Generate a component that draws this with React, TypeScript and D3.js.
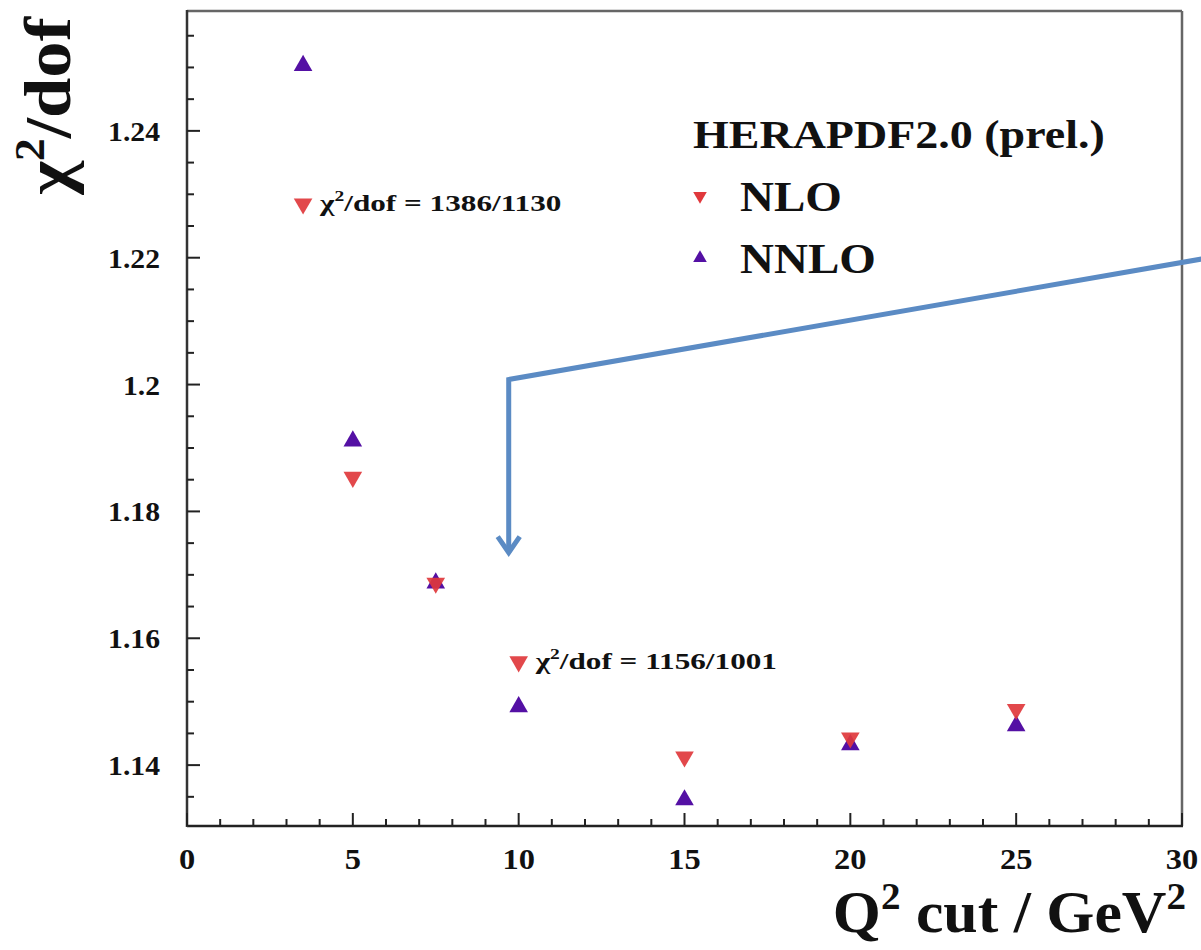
import * as d3 from 'd3'

// Q2 cut values (GeV^2) and chi2/dof for the two fits
const qCuts = [3.5, 5, 7.5, 10, 15, 20, 25]
const nloChi2 = [1.2285, 1.1854, 1.1687, 1.1563, 1.1413, 1.1443, 1.1488]
const nnloChi2 = [1.2503, 1.1911, 1.1687, 1.1492, 1.1345, 1.1432, 1.1462]

const xMajorTicks = [0, 5, 10, 15, 20, 25, 30]
const yMajorTicks = [1.14, 1.16, 1.18, 1.2, 1.22, 1.24]

const annotations = [
  { q: 3.5, chi2: 1.2285, label: '1386/1130' },
  { q: 10, chi2: 1.1563, label: '1156/1001' },
]

// arrow drawn on the slide, in data coordinates
const arrowPoints: [number, number][] = [
  [30.6, 1.2198],
  [9.7, 1.2008],
  [9.7, 1.1735],
]

const NLO_COLOR = '#e0383c'
const NNLO_COLOR = '#5410a4'
const FONT = '"Liberation Serif", "Times New Roman", serif'
const W = 1201
const H = 950
const STRETCH = 1.12

export default function App() {
  const margin = { top: 11, right: 19, bottom: 124, left: 187 }

  const x = d3.scaleLinear().domain([0, 30]).range([margin.left, W - margin.right])
  const y = d3.scaleLinear().domain([1.1304, 1.2589]).range([H - margin.bottom, margin.top])

  const xMinor = d3.range(0, 30.001, 1).filter(v => v % 5 !== 0)
  const yMinor = d3.range(1.135, 1.2589, 0.005).filter(
    v => !yMajorTicks.some(t => Math.abs(t - v) < 1e-6)
  )

  const upTri = d3.symbol(d3.symbolTriangle, 150)()
  const legendTri = d3.symbol(d3.symbolTriangle, 80)()

  const x0 = x.range()[0]
  const x1 = x.range()[1]
  const y0 = y.range()[0]
  const y1 = y.range()[1]

  const arrowPath = d3.line()(arrowPoints.map(([a, b]) => [x(a), y(b)]))
  const tip = arrowPoints[arrowPoints.length - 1]
  const tx = x(tip[0])
  const ty = y(tip[1])

  return (
    <svg
      width={W}
      height={H}
      style={{ position: 'absolute', left: 0, top: 0, background: '#fff' }}
      fontFamily={FONT}
    >
      {/* frame */}
      <line x1={x0} y1={y1} x2={x1} y2={y1} stroke="#666" strokeWidth={2.5} />
      <line x1={x1} y1={y1} x2={x1} y2={y0} stroke="#666" strokeWidth={2.5} />
      <line x1={x0} y1={y0} x2={x1 + 1} y2={y0} stroke="#222" strokeWidth={2.5} />
      <line x1={x0} y1={y0 + 1} x2={x0} y2={y1 - 1} stroke="#333" strokeWidth={2.5} />

      {/* y ticks */}
      {yMajorTicks.map(t => (
        <g key={'ym' + t}>
          <line x1={x0} x2={x0 + 13} y1={y(t)} y2={y(t)} stroke="#222" strokeWidth={2} />
          <text
            transform={`translate(${x0 - 27},${y(t) + 10}) scale(1.06,1)`}
            textAnchor="end"
            fontSize={28}
            fontWeight="bold"
            fill="#111"
          >
            {String(t)}
          </text>
        </g>
      ))}
      {yMinor.map(t => (
        <line key={'yn' + t} x1={x0} x2={x0 + 7} y1={y(t)} y2={y(t)} stroke="#222" strokeWidth={2} />
      ))}

      {/* x ticks */}
      {xMajorTicks.map(t => (
        <g key={'xm' + t}>
          <line x1={x(t)} x2={x(t)} y1={y0} y2={y0 - 13} stroke="#222" strokeWidth={2} />
          <text
            transform={`translate(${x(t)},${y0 + 43}) scale(${STRETCH},1)`}
            textAnchor="middle"
            fontSize={29}
            fontWeight="bold"
            fill="#111"
          >
            {String(t)}
          </text>
        </g>
      ))}
      {xMinor.map(t => (
        <line key={'xn' + t} x1={x(t)} x2={x(t)} y1={y0} y2={y0 - 7} stroke="#222" strokeWidth={2} />
      ))}

      {/* axis titles */}
      <text
        transform={`translate(70,106) rotate(-90) scale(1.1,1)`}
        textAnchor="middle"
        fontSize={66}
        fontWeight="bold"
        fill="#111"
      >
        χ<tspan fontSize={42} dy={-26}>2</tspan>
        <tspan dy={26}>/dof</tspan>
      </text>
      <text
        transform={`translate(${x1 + 4},932) scale(1.03,1)`}
        textAnchor="end"
        fontSize={60}
        fontWeight="bold"
        fill="#111"
      >
        Q<tspan fontSize={38} dy={-23}>2</tspan>
        <tspan dy={23}> cut / GeV</tspan>
        <tspan fontSize={38} dy={-23}>2</tspan>
      </text>

      {/* arrow */}
      <path d={arrowPath ?? ''} fill="none" stroke="#5b8bc4" strokeWidth={5} strokeLinejoin="miter" />
      <path
        d={`M${tx - 11},${ty - 16} L${tx},${ty} L${tx + 11},${ty - 16}`}
        fill="none"
        stroke="#5b8bc4"
        strokeWidth={5}
      />

      {/* data points */}
      {qCuts.map((q, i) => (
        <path
          key={'nn' + q}
          d={upTri ?? ''}
          transform={`translate(${x(q)},${y(nnloChi2[i])})`}
          fill={NNLO_COLOR}
        />
      ))}
      {qCuts.map((q, i) => (
        <path
          key={'n' + q}
          d={upTri ?? ''}
          transform={`translate(${x(q)},${y(nloChi2[i])}) rotate(180)`}
          fill={NLO_COLOR}
          fillOpacity={0.92}
        />
      ))}

      {/* chi2 annotations */}
      {annotations.map(a => (
        <text
          key={a.label}
          transform={`translate(${x(a.q) + 17},${y(a.chi2) + 7}) scale(1.3,1)`}
          fontSize={24}
          fontWeight="bold"
          fill="#111"
        >
          χ<tspan fontSize={15} dy={-10}>2</tspan>
          <tspan dy={10}>/dof = {a.label}</tspan>
        </text>
      ))}

      {/* legend */}
      <text
        transform={`translate(693,148) scale(1.15,1)`}
        fontSize={40}
        fontWeight="bold"
        fill="#111"
      >
        HERAPDF2.0 (prel.)
      </text>
      <path d={legendTri ?? ''} transform="translate(700,196) rotate(180)" fill={NLO_COLOR} />
      <text transform={`translate(740,211) scale(${STRETCH},1)`} fontSize={42} fontWeight="bold" fill="#111">
        NLO
      </text>
      <path d={legendTri ?? ''} transform="translate(700,258)" fill={NNLO_COLOR} />
      <text transform={`translate(740,273) scale(${STRETCH},1)`} fontSize={42} fontWeight="bold" fill="#111">
        NNLO
      </text>
    </svg>
  )
}
